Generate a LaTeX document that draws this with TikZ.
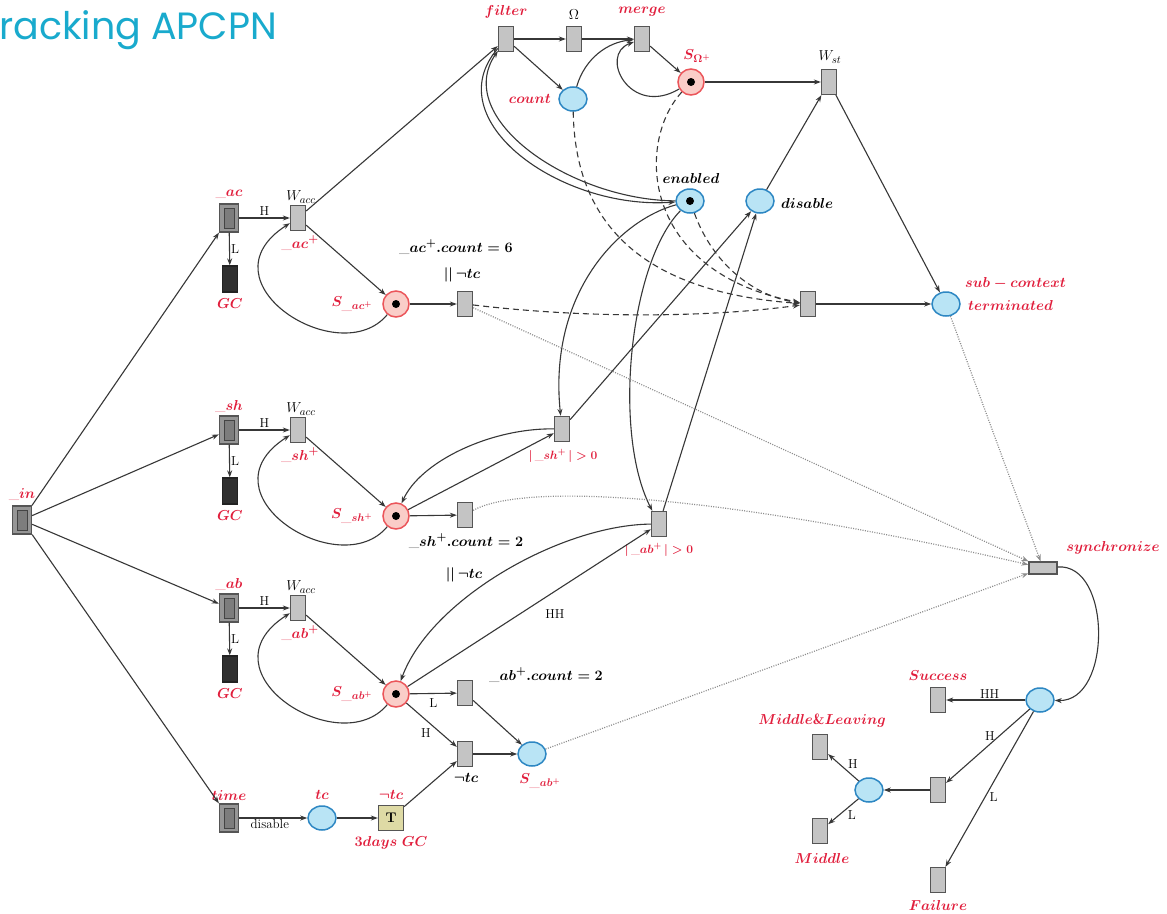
\documentclass[tikz,border=0pt]{standalone}
\usepackage{fontspec}
\usetikzlibrary{arrows.meta,shapes.geometric}
\newfontfamily\titlefont{Poppins}
\definecolor{titlecyan}{RGB}{25,170,205}
\definecolor{labred}{RGB}{225,30,60}
\definecolor{trfill}{RGB}{196,196,196}
\definecolor{trdraw}{RGB}{85,85,85}
\definecolor{dbfill}{RGB}{150,150,150}
\definecolor{dbinner}{RGB}{125,125,125}
\definecolor{gcfill}{RGB}{48,48,48}
\definecolor{bluefill}{RGB}{185,228,245}
\definecolor{bluedraw}{RGB}{45,135,195}
\definecolor{redfill}{RGB}{250,205,200}
\definecolor{reddraw}{RGB}{235,85,90}
\definecolor{edgecol}{RGB}{55,55,55}
\definecolor{dotcol}{RGB}{140,140,140}
\definecolor{tfill}{RGB}{222,218,165}
\begin{document}
\begin{tikzpicture}[x=1pt,y=-1pt,
  trans/.style={draw=trdraw, fill=trfill, line width=1.3pt, minimum width=15pt, minimum height=25pt, inner sep=0pt},
  htrans/.style={trans, minimum width=28pt, minimum height=12pt},
  gcbox/.style={trans, draw=gcfill!70!black, fill=gcfill, minimum height=26pt},
  dbox/.style={draw=trdraw, fill=dbfill, line width=1.3pt, minimum width=19pt, minimum height=28pt, inner sep=0pt,
    path picture={\draw[draw=trdraw!80!black, fill=dbinner, line width=1pt]
      ([xshift=-5pt,yshift=-10pt]path picture bounding box.center) rectangle
      ([xshift=5pt,yshift=10pt]path picture bounding box.center);}},
  tbox/.style={draw=trdraw, fill=tfill, line width=1.3pt, minimum size=25pt, inner sep=0pt, font=\fontsize{14}{16}\selectfont\bfseries},
  bplace/.style={ellipse, draw=bluedraw, fill=bluefill, line width=1.5pt, minimum width=28pt, minimum height=24pt, inner sep=0pt},
  rplace/.style={circle, draw=reddraw, fill=redfill, line width=1.5pt, minimum size=26pt, inner sep=0pt},
  token/.style={path picture={\fill[black] (path picture bounding box.center) circle (4pt);}},
  lab/.style={text=labred, font=\fontsize{15}{17}\selectfont\boldmath, inner sep=1pt},
  slab/.style={text=labred, font=\fontsize{12}{14}\selectfont\boldmath, inner sep=1pt},
  blab/.style={text=black, font=\fontsize{15}{17}\selectfont\boldmath, inner sep=1pt},
  wlab/.style={text=black, font=\fontsize{15}{17}\selectfont, inner sep=1pt},
  rlab/.style={text=black, font=\fontsize{13}{15}\selectfont, inner sep=1pt},
  arr/.style={draw=edgecol, line width=1.1pt, -{Stealth[length=7pt,width=5pt]}},
  dsh/.style={arr, dash pattern=on 6pt off 4pt},
  dot/.style={draw=dotcol, line width=1.2pt, dash pattern=on 1pt off 1.4pt, -{Stealth[length=7pt,width=5pt]}},
]
\useasboundingbox (0,0) rectangle (1167,913);
\fill[white] (0,0) rectangle (1167,913);

% heading
\node[anchor=base west, text=titlecyan, font=\titlefont\fontsize{38}{41}\selectfont, inner sep=0pt] (title) at (-1,39) {racking APCPN};

% entry transition
\node[dbox] (in) at (22,520) {};
\node[lab] (lin) at (22,495) {$\_in$};

% the three accumulation rows
\foreach \nm/\dy in {ac/0, sh/212, ab/390} {
  \begin{scope}[shift={(0,\dy)}]
    \node[dbox] (\nm) at (229,218) {};
    \node[lab] (l\nm) at (229,194) {$\_\nm$};
    \node[gcbox] (gc\nm) at (230,279) {};
    \node[lab] (lgc\nm) at (230,304) {$GC$};
    \node[trans] (W\nm) at (298,218) {};
    \node[wlab] (lW\nm) at (301,197) {$W_{acc}$};
    \node[lab] (lWp\nm) at (300,243) {$\_\nm^{+}$};
    \node[rplace, token] (S\nm) at (396,304) {};
    \node[lab] (lS\nm) at (352,304) {$S_{\_\nm^{+}}$};
    \draw[arr] (\nm) -- node[rlab, above, yshift=1pt] {H} (W\nm);
    \draw[arr] (\nm) -- node[rlab, right] {L} (gc\nm);
    \draw[arr] (W\nm) -- (S\nm);
    \draw[arr] (S\nm) .. controls (340,372) and (198,282) .. (W\nm);
    \draw[arr] (in) -- (\nm);
  \end{scope}
}

% count checks of the first two rows
\node[trans] (tac) at (465,304) {};
\node[blab] (ltac1) at (456,247) {$\_ac^{+}.count=6$};
\node[blab] (ltac2) at (462,275) {$||\,\neg tc$};
\draw[arr] (Sac) -- (tac);
\node[trans] (tsh) at (465,515) {};
\node[blab] (ltsh1) at (466,541) {$\_sh^{+}.count=2$};
\node[blab] (ltsh2) at (464,575) {$||\,\neg tc$};
\draw[arr] (Ssh) -- (tsh);

% last row outputs
\node[trans] (tabL) at (465,693) {};
\node[blab] (ltabL) at (546,675) {$\_ab^{+}.count=2$};
\node[trans] (tabH) at (465,754) {};
\node[blab] (ltabH) at (466,778) {$\neg tc$};
\node[bplace] (Sabp) at (532,754) {};
\node[lab] (lSabp) at (540,781) {$S_{\_ab^{+}}$};
\draw[arr] (Sab) -- node[rlab, below, pos=0.5, yshift=-4pt] {L} (tabL);
\draw[arr] (Sab) -- node[rlab, below left, pos=0.55, xshift=-2pt] {H} (tabH);
\draw[arr] (tabL) -- (Sabp);
\draw[arr] (tabH) -- (Sabp);

% timer row
\node[dbox] (time) at (229,818) {};
\node[lab] (ltime) at (229,795) {$time$};
\node[bplace] (tc) at (322,818) {};
\node[lab] (ltc) at (322,795) {$tc$};
\node[tbox] (T) at (391,818) {T};
\node[lab] (lT1) at (391,795) {$\neg tc$};
\node[lab] (lT2) at (391,843) {$3days\ GC$};
\draw[arr] (in) -- (time);
\draw[arr] (time) -- node[rlab, below, pos=0.45] {disable} (tc);
\draw[arr] (tc) -- (T);
\draw[arr] (T) -- (tabH);

% filter / merge stage
\node[trans] (filter) at (506,39) {};
\node[lab] (lfilter) at (506,12) {$filter$};
\node[trans] (omega) at (574,39) {};
\node[wlab] (lomega) at (574,15) {$\Omega$};
\node[trans] (merge) at (642,39) {};
\node[lab] (lmerge) at (642,12) {$merge$};
\node[bplace] (count) at (573,99) {};
\node[lab, anchor=east] (lcount) at (552,99) {$count$};
\node[rplace, token] (SO) at (691,82) {};
\node[lab] (lSO) at (697,56) {$S_{\Omega^{+}}$};
\node[trans] (Wst) at (829,82) {};
\node[wlab] (lWst) at (830,57) {$W_{st}$};
\draw[arr] (Wac) -- (filter);
\draw[arr] (filter) -- (omega);
\draw[arr] (omega) -- (merge);
\draw[arr] (filter) -- (count);
\draw[arr] (count) .. controls (585,58) and (608,42) .. (merge);
\draw[arr] (merge) -- (SO);
\draw[arr] (SO) .. controls (630,118) and (598,55) .. (merge);
\draw[arr] (SO) -- (Wst);

% enabling places
\node[bplace, token] (enabled) at (690,201) {};
\node[blab] (lenabled) at (691,178) {$enabled$};
\node[bplace] (disable) at (760,201) {};
\node[blab, anchor=west] (ldisable) at (780,203) {$disable$};
\draw[arr] (filter) .. controls (436,120) and (560,210) .. (enabled);
\draw[arr] (enabled) .. controls (570,200) and (452,118) .. (filter);
\draw[arr] (disable) -- (Wst);

% non-empty checks
\node[trans] (gsh) at (562,429) {};
\node[slab] (lgsh) at (563,456) {$|\,\_sh^{+}\,|>0$};
\node[trans] (gab) at (659,524) {};
\node[slab] (lgab) at (659,550) {$|\,\_ab^{+}\,|>0$};
\draw[arr] (enabled) .. controls (620,220) and (548,292) .. (gsh);
\draw[arr] (enabled) .. controls (630,262) and (612,432) .. (gab);
\draw[arr] (gsh) -- (disable);
\draw[arr] (gab) -- (disable);
\draw[arr] (gsh) .. controls (490,428) and (420,462) .. (Ssh);
\draw[arr] (Ssh) -- (gsh);
\draw[arr] (gab) .. controls (560,525) and (430,600) .. (Sab);
\draw[arr] (Sab) -- node[rlab, below right, pos=0.56, xshift=0pt, yshift=-10pt] {HH} (gab);

% termination of the sub-context
\node[trans] (dtr) at (808,304) {};
\node[bplace] (sub) at (946,304) {};
\node[lab, anchor=west] (lsub1) at (964,283) {$sub-context$};
\node[lab, anchor=west] (lsub2) at (967,305) {$terminated$};
\draw[dsh] (count) .. controls (575,222) and (640,292) .. (dtr);
\draw[dsh] (SO) .. controls (636,142) and (640,272) .. (dtr);
\draw[dsh] (enabled) .. controls (712,262) and (752,296) .. (dtr);
\draw[dsh] (tac) .. controls (600,320) and (720,316) .. (dtr);
\draw[arr] (dtr) -- (sub);
\draw[arr] (Wst) -- (sub);

% synchronisation
\node[htrans] (sync) at (1043,568) {};
\node[lab] (lsync) at (1113,548) {$synchronize$};
\draw[dot] (sub) -- (sync);
\draw[dot] (tac) -- (sync);
\draw[dot] (tsh) .. controls (520,484) and (700,490) .. (sync);
\draw[dot] (Sabp) -- (sync);

% outcome
\node[bplace] (R) at (1040,700) {};
\node[trans] (succ) at (938,700) {};
\node[lab] (lsucc) at (938,676) {$Success$};
\node[trans] (tmid) at (938,790) {};
\node[trans] (fail) at (938,880) {};
\node[lab] (lfail) at (938,905) {$Failure$};
\node[bplace] (P2) at (869,790) {};
\node[trans] (ml) at (820,747) {};
\node[lab] (lml) at (822,721) {$Middle\&Leaving$};
\node[trans] (mid) at (820,831) {};
\node[lab] (lmid) at (822,858) {$Middle$};
\draw[arr] (sync) .. controls (1112,563) and (1112,702) .. (R);
\draw[arr] (R) -- node[rlab, above, pos=0.45] {HH} (succ);
\draw[arr] (R) -- node[rlab, above left, pos=0.45, xshift=4pt] {H} (tmid);
\draw[arr] (R) -- node[rlab, right, pos=0.55, xshift=3pt] {L} (fail);
\draw[arr] (tmid) -- (P2);
\draw[arr] (P2) -- node[rlab, above right, pos=0.4] {H} (ml);
\draw[arr] (P2) -- node[rlab, below right, pos=0.4] {L} (mid);
\end{tikzpicture}
\end{document}
